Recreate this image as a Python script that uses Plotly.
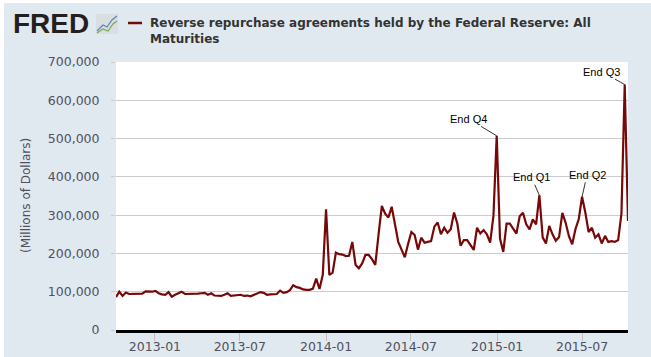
import plotly.graph_objects as go
import pandas as pd

# ---- data (weekly Wednesday levels, millions of dollars) ----
start_date = "2012-10-10"
values_k = [
    86, 100, 89, 98, 94, 94, 94, 94, 95, 101,
    100, 100, 102, 96, 93, 92, 99, 87, 92, 96,
    100, 94, 94, 94, 94, 95, 96, 97, 92, 96,
    90, 90, 89, 92, 96, 89, 90, 91, 92, 89,
    90, 88, 92, 96, 99, 97, 92, 93, 93, 94,
    103, 97, 99, 104, 117, 112, 110, 106, 105, 105,
    108, 134, 107, 144, 315, 144, 150, 202, 198, 197,
    193, 194, 230, 170, 161, 174, 196, 196, 185, 170,
    250, 324, 304, 294, 322, 278, 230, 210, 190, 225,
    256, 248, 210, 241, 228, 230, 232, 270, 281, 250,
    267, 254, 263, 307, 278, 220, 235, 235, 222, 209,
    267, 252, 261, 250, 228, 298, 507, 239, 204, 278,
    278, 265, 252, 297, 306, 276, 263, 289, 276, 352,
    242, 226, 272, 250, 233, 243, 306, 280, 245, 224,
    264, 290, 348, 307, 256, 267, 241, 250, 226, 246,
    230, 232, 230, 235, 304, 641, 285,
]
dates = pd.date_range(start_date, periods=len(values_k), freq="7D")
values = [v * 1000 for v in values_k]

x_tick_vals = ["2013-01-01", "2013-07-01", "2014-01-01", "2014-07-01", "2015-01-01", "2015-07-01"]
x_tick_text = ["2013-01", "2013-07", "2014-01", "2014-07", "2015-01", "2015-07"]
y_tick_vals = [0, 100000, 200000, 300000, 400000, 500000, 600000, 700000]
y_tick_text = ["0", "100,000", "200,000", "300,000", "400,000", "500,000", "600,000", "700,000"]

note_dates = ["2014-12-31", "2015-04-01", "2015-07-01", "2015-09-30"]
note_labels = ["End Q4", "End Q1", "End Q2", "End Q3"]
note_offsets = [(-28, -17), (-8, -18), (5, -22), (-23, -13)]

title_text = "Reverse repurchase agreements held by the Federal Reserve: All<br>Maturities"
y_title = "(Millions of Dollars)"

LINE = "#760808"
BG = "#e1e9f0"
TICKFONT = dict(family="DejaVu Sans, Verdana, sans-serif", size=12.5, color="#505060")

W, H = 651, 357
L, R, T, B = 116, 23, 62, 27
PW, PH = W - L - R, H - T - B


def px(x):
    return (x - L) / PW


def py(y):
    return (H - B - y) / PH


fig = go.Figure()
fig.add_trace(go.Scatter(x=dates, y=values, mode="lines",
                         line=dict(color=LINE, width=2.2), hoverinfo="skip"))

val_by_date = dict(zip(dates.strftime("%Y-%m-%d"), values))
annotations = []
for d, lab, (ax, ay) in zip(note_dates, note_labels, note_offsets):
    annotations.append(dict(x=d, y=val_by_date[d], xref="x", yref="y", text=lab,
                            showarrow=True, arrowhead=0, arrowwidth=0.8, arrowcolor="#000",
                            ax=ax, ay=ay, standoff=0,
                            font=dict(family="Liberation Sans, Arial, sans-serif", size=11, color="#000")))

# header texts
annotations.append(dict(x=px(148), y=py(14), xref="paper", yref="paper", text=title_text,
                        showarrow=False, xanchor="left", yanchor="top", align="left",
                        font=dict(family="DejaVu Sans, Verdana, sans-serif", size=12, color="#333333",
                                  weight="bold")))
annotations.append(dict(x=px(11), y=py(24), xref="paper", yref="paper", text="<b>FRED</b>",
                        showarrow=False, xanchor="left", yanchor="middle",
                        font=dict(family="Liberation Sans, Arial, sans-serif", size=28, color="#231f20")))
annotations.append(dict(x=px(26), y=0.5, xref="paper", yref="paper", text=y_title,
                        showarrow=False, textangle=-90, xanchor="center", yanchor="middle",
                        font=dict(family="DejaVu Sans, Verdana, sans-serif", size=12, color="#505060")))

shapes = [
    # white outer border strips
    dict(type="rect", xref="paper", yref="paper", x0=px(0), x1=px(W), y0=py(3), y1=py(0),
         fillcolor="white", line=dict(width=0)),
    dict(type="rect", xref="paper", yref="paper", x0=px(0), x1=px(4), y0=py(H), y1=py(0),
         fillcolor="white", line=dict(width=0)),
    # logo icon
    dict(type="rect", xref="paper", yref="paper", x0=px(96), x1=px(118), y0=py(34), y1=py(14),
         fillcolor="#d9dee3", line=dict(width=0)),
    dict(type="path", xref="paper", yref="paper",
         path="M {} {} L {} {} L {} {} L {} {} L {} {}".format(px(97), py(31), px(103), py(25), px(107), py(27),
                                                            px(112), py(20), px(117), py(16)),
         line=dict(color="#5b86b5", width=1.2)),
    dict(type="path", xref="paper", yref="paper",
         path="M {} {} L {} {} L {} {} L {} {} L {} {}".format(px(97), py(33), px(103), py(29), px(108), py(31),
                                                            px(113), py(24), px(117), py(21)),
         line=dict(color="#7fa84a", width=1.2)),
    # legend dash
    dict(type="line", xref="paper", yref="paper", x0=px(128), x1=px(142), y0=py(23), y1=py(23),
         line=dict(color=LINE, width=2.5)),
]

fig.update_layout(
    width=W, height=H,
    margin=dict(l=L, r=R, t=T, b=B, pad=0, autoexpand=False),
    paper_bgcolor=BG, plot_bgcolor="white",
    showlegend=False,
    annotations=annotations,
    shapes=shapes,
    xaxis=dict(type="date", range=[dates[0], dates[-1]],
               tickvals=x_tick_vals, ticktext=x_tick_text,
               showgrid=False, zeroline=False, automargin=False,
               showline=True, linecolor="#000", linewidth=3,
               ticks="outside", ticklen=8, tickcolor="#c0c0c0", tickwidth=1,
               ticklabelstandoff=-5,
               tickfont=TICKFONT, fixedrange=True),
    yaxis=dict(range=[0, 700000], tickvals=y_tick_vals, ticktext=y_tick_text,
               showgrid=True, gridcolor="#cccccc", gridwidth=1, zeroline=False, automargin=False,
               showline=False, ticks="outside", ticklen=4, tickcolor="#cccccc",
               ticklabelstandoff=9,
               tickfont=TICKFONT, fixedrange=True),
)

fig.write_html("out.html", config={"displayModeBar": False},
               post_script="document.body.style.margin='0';document.body.style.overflow='hidden';")
